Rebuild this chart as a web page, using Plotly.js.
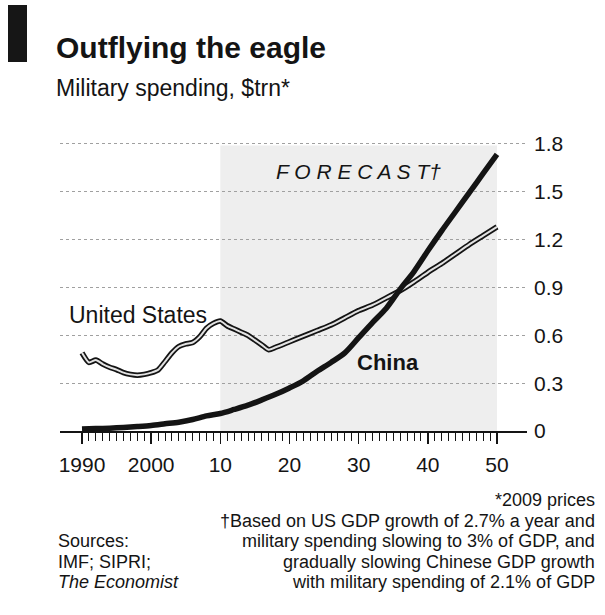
<!DOCTYPE html>
<html>
<head>
<meta charset="utf-8">
<script src="https://cdn.plot.ly/plotly-3.0.1.min.js"></script>
<style>
  html, body { margin: 0; padding: 0; background: #fff; }
  #chart { width: 605px; height: 615px; }
</style>
</head>
<body>
<div id="chart"></div>
<script>
// Military spending, $trn (2009 prices); forecast from 2010 onwards
const usYears = [1990, 1991, 1992, 1993, 1994, 1995, 1996, 1997, 1998, 1999,
                 2000, 2001, 2002, 2003, 2004, 2005, 2006, 2007, 2008, 2009,
                 2010, 2011, 2012, 2013, 2014, 2015, 2016, 2017, 2018, 2020,
                 2022, 2024, 2026, 2028, 2030, 2032, 2034, 2036, 2038, 2040,
                 2042, 2044, 2046, 2048, 2050];
const usSpend = [0.49, 0.43, 0.445, 0.42, 0.40, 0.385, 0.366, 0.355, 0.35, 0.355,
                 0.366, 0.383, 0.435, 0.49, 0.53, 0.546, 0.555, 0.59, 0.645, 0.675,
                 0.69, 0.66, 0.64, 0.62, 0.60, 0.57, 0.54, 0.51, 0.525, 0.56,
                 0.595, 0.63, 0.665, 0.71, 0.755, 0.79, 0.835, 0.88, 0.935, 0.995,
                 1.05, 1.11, 1.17, 1.225, 1.28];

const chinaYears = [1990, 1992, 1994, 1996, 1998, 2000, 2002, 2004, 2006, 2008,
                    2010, 2012, 2014, 2016, 2018, 2020, 2022, 2024, 2026, 2028,
                    2030, 2032, 2034, 2036, 2038, 2040, 2042, 2044, 2046, 2048, 2050];
const chinaSpend = [0.012, 0.015, 0.018, 0.022, 0.028, 0.035, 0.045, 0.055, 0.072, 0.095,
                    0.11, 0.135, 0.162, 0.195, 0.23, 0.27, 0.315, 0.375, 0.43, 0.49,
                    0.585, 0.68, 0.77, 0.89, 1.0, 1.13, 1.255, 1.375, 1.495, 1.615, 1.735];

const xTickVals = [1990, 2000, 2010, 2020, 2030, 2040, 2050];
const xTickText = ['1990', '2000', '10', '20', '30', '40', '50'];
const yTickVals = [0, 0.3, 0.6, 0.9, 1.2, 1.5, 1.8];
const yTickText = ['0', '0.3', '0.6', '0.9', '1.2', '1.5', '1.8'];

const forecastStart = 2010;
const forecastEnd = 2050;

// yearly ruler ticks along the zero line
const yearTicks = [];
for (let y = xTickVals[0]; y <= xTickVals[xTickVals.length - 1]; y++) yearTicks.push(y);

// plot-area geometry in pixels, used to place the surrounding texts
const L = 60, T = 136, W = 467, H = 295;
const px = x => (x - L) / W;
const py = y => (T + H - y) / H;

const SANS = 'Liberation Sans, Arial, sans-serif';
const INK = '#141414';

const traces = [
  { x: usYears, y: usSpend, mode: 'lines', line: { color: INK, width: 5.5, shape: 'spline', smoothing: 0.6 }, hoverinfo: 'skip' },
  { x: usYears, y: usSpend, mode: 'lines', line: { color: '#e2e2e2', width: 2, shape: 'spline', smoothing: 0.6 }, hoverinfo: 'skip' },
  { x: chinaYears, y: chinaSpend, mode: 'lines', line: { color: INK, width: 5.5, shape: 'spline', smoothing: 0.8 }, hoverinfo: 'skip' }
];

const note = (text, x, y, anchor, opts = {}) => Object.assign({
  text, x: px(x), y: py(y), xref: 'paper', yref: 'paper',
  xanchor: anchor, yanchor: 'middle', showarrow: false,
  font: { family: SANS, size: 18, color: INK }
}, opts);

// footnote rows, top to bottom
const rowY = [500, 520.5, 541, 561.5, 582];

const layout = {
  width: 605, height: 615,
  margin: { l: L, r: 605 - L - W, t: T, b: 615 - T - H, pad: 0 },
  paper_bgcolor: '#fff', plot_bgcolor: 'rgba(0,0,0,0)',
  showlegend: false,
  xaxis: {
    range: [1990 - 22 / 6.917, 2050 + 30 / 6.917],
    tickmode: 'array', tickvals: xTickVals, ticktext: xTickText,
    ticks: 'outside', ticklen: 11, tickwidth: 1.5, tickcolor: INK,
    minor: { tickmode: 'array', tickvals: yearTicks, ticks: 'outside', ticklen: 8, tickwidth: 1, tickcolor: INK, showgrid: false },
    showline: true, linecolor: INK, linewidth: 1.5,
    showgrid: false, zeroline: false,
    ticklabelstandoff: 3,
    tickfont: { family: SANS, size: 21, color: INK },
    fixedrange: true
  },
  yaxis: {
    range: [0, 1.85], side: 'right',
    tickmode: 'array', tickvals: yTickVals, ticktext: yTickText,
    ticks: '', ticklabelstandoff: 6,
    showgrid: true, gridcolor: '#a0a0a0', gridwidth: 1, griddash: 'dot',
    zeroline: false, showline: false,
    tickfont: { family: SANS, size: 21, color: INK },
    fixedrange: true
  },
  shapes: [
    // forecast period
    { type: 'rect', xref: 'x', yref: 'y', x0: forecastStart, x1: forecastEnd, y0: 0, y1: 1.79,
      fillcolor: '#eeeeee', line: { width: 0 }, layer: 'below' },
    // masthead tag
    { type: 'rect', xref: 'paper', yref: 'paper', x0: px(8), x1: px(27), y0: py(62), y1: py(5),
      fillcolor: '#161616', line: { width: 0 } }
  ],
  annotations: [
    note('<b>Outflying the eagle</b>', 54, 47, 'left', { font: { family: SANS, size: 30, color: INK } }),
    note('Military spending, $trn*', 54, 88, 'left', { font: { family: SANS, size: 23, color: INK } }),
    { text: '<i>F O R E C A S T†</i>', x: 2030, y: 1.625, xref: 'x', yref: 'y',
      xanchor: 'center', yanchor: 'middle', showarrow: false,
      font: { family: SANS, size: 21, color: INK } },
    { text: 'United States', x: 1998.1, y: 0.73, xref: 'x', yref: 'y',
      xanchor: 'center', yanchor: 'middle', showarrow: false,
      font: { family: SANS, size: 23, color: INK } },
    { text: '<b>China</b>', x: 2034.2, y: 0.43, xref: 'x', yref: 'y',
      xanchor: 'center', yanchor: 'middle', showarrow: false,
      font: { family: SANS, size: 22, color: INK } },
    note('*2009 prices', 597, rowY[0], 'right'),
    note('†Based on US GDP growth of 2.7% a year and', 597, rowY[1], 'right'),
    note('military spending slowing to 3% of GDP, and', 597, rowY[2], 'right'),
    note('gradually slowing Chinese GDP growth', 597, rowY[3], 'right'),
    note('with military spending of 2.1% of GDP', 597, rowY[4], 'right'),
    note('Sources:', 56, rowY[2], 'left'),
    note('IMF; SIPRI;', 56, rowY[3], 'left'),
    note('<i>The Economist</i>', 56, rowY[4], 'left')
  ]
};

Plotly.newPlot('chart', traces, layout, { staticPlot: true, displayModeBar: false });
</script>
</body>
</html>
